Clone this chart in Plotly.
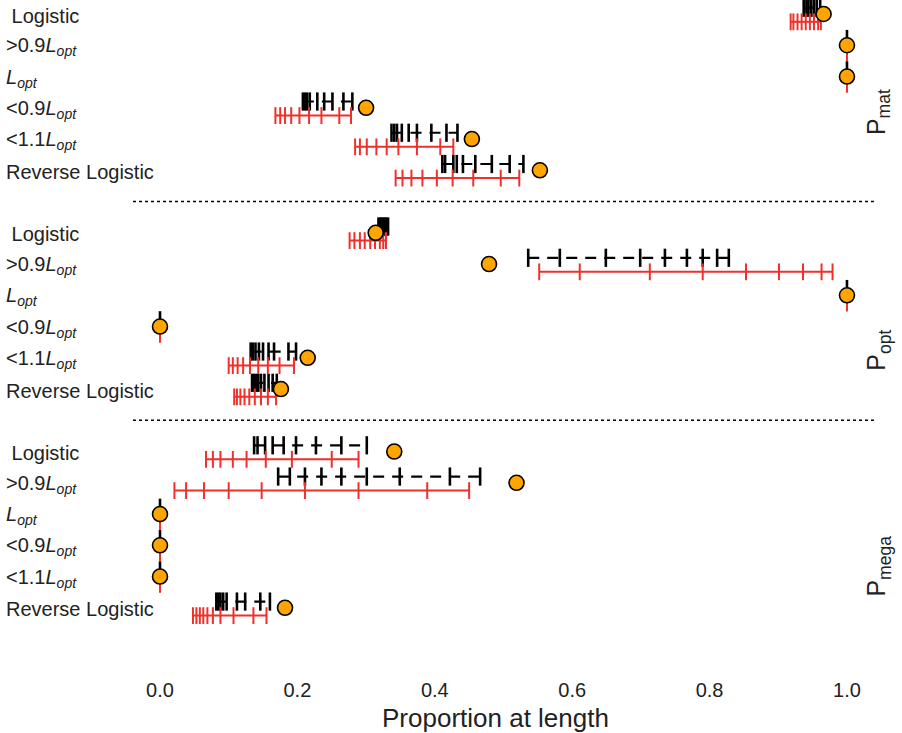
import plotly.graph_objects as go

# ---------------- data ----------------
row_labels = [" Logistic", "&gt;0.9<i>L</i><sub><i>opt</i></sub>", "<i>L</i><sub><i>opt</i></sub>",
              "&lt;0.9<i>L</i><sub><i>opt</i></sub>", "&lt;1.1<i>L</i><sub><i>opt</i></sub>", "Reverse Logistic"]
panel_labels = ["P<sub>mat</sub>", "P<sub>opt</sub>", "P<sub>mega</sub>"]
x_ticks = [0.0, 0.2, 0.4, 0.6, 0.8, 1.0]
x_ticktext = ["0.0", "0.2", "0.4", "0.6", "0.8", "1.0"]

pmat_true = [0.966, 1.0, 1.0, 0.300, 0.454, 0.553]
pmat_black = [
    [0.937, 0.941, 0.944, 0.948, 0.952, 0.956, 0.961],
    [1.0],
    [1.0],
    [0.208, 0.211, 0.214, 0.218, 0.229, 0.239, 0.251, 0.267, 0.280],
    [0.337, 0.341, 0.345, 0.352, 0.362, 0.374, 0.395, 0.417, 0.433],
    [0.411, 0.415, 0.427, 0.432, 0.441, 0.459, 0.483, 0.509, 0.529],
]
pmat_red = [
    [0.918, 0.922, 0.928, 0.934, 0.940, 0.946, 0.952, 0.958, 0.962],
    [1.0],
    [1.0],
    [0.168, 0.175, 0.182, 0.191, 0.203, 0.217, 0.235, 0.261, 0.278],
    [0.284, 0.291, 0.301, 0.315, 0.330, 0.347, 0.374, 0.408, 0.427],
    [0.343, 0.353, 0.366, 0.382, 0.403, 0.426, 0.456, 0.496, 0.523],
]

popt_true = [0.314, 0.479, 1.0, 0.0, 0.215, 0.176]
popt_black = [
    [0.318, 0.320, 0.322, 0.324, 0.326, 0.328, 0.330, 0.332],
    [0.536, 0.582, 0.649, 0.699, 0.735, 0.767, 0.790, 0.811, 0.828],
    [1.0],
    [0.0],
    [0.132, 0.135, 0.139, 0.144, 0.150, 0.158, 0.166, 0.187, 0.198],
    [0.134, 0.137, 0.140, 0.143, 0.147, 0.152, 0.158, 0.164, 0.170],
]
popt_red = [
    [0.276, 0.283, 0.291, 0.298, 0.306, 0.313, 0.320, 0.325, 0.329],
    [0.552, 0.611, 0.713, 0.790, 0.853, 0.901, 0.936, 0.963, 0.979],
    [1.0],
    [0.0],
    [0.100, 0.106, 0.113, 0.121, 0.131, 0.143, 0.157, 0.174, 0.195],
    [0.108, 0.112, 0.117, 0.123, 0.130, 0.138, 0.147, 0.157, 0.169],
]

pmega_true = [0.341, 0.519, 0.0, 0.0, 0.0, 0.182]
pmega_black = [
    [0.137, 0.142, 0.153, 0.164, 0.180, 0.198, 0.227, 0.264, 0.301],
    [0.172, 0.189, 0.211, 0.235, 0.264, 0.301, 0.349, 0.422, 0.466],
    [0.0],
    [0.0],
    [0.0],
    [0.082, 0.085, 0.088, 0.092, 0.097, 0.112, 0.124, 0.146, 0.160],
]
pmega_red = [
    [0.067, 0.077, 0.088, 0.106, 0.126, 0.154, 0.192, 0.250, 0.289],
    [0.021, 0.038, 0.064, 0.100, 0.148, 0.211, 0.289, 0.389, 0.450],
    [0.0],
    [0.0],
    [0.0],
    [0.048, 0.053, 0.058, 0.063, 0.069, 0.077, 0.088, 0.107, 0.136, 0.155],
]

panels = [
    (pmat_true, pmat_black, pmat_red),
    (popt_true, popt_black, popt_red),
    (pmega_true, pmega_black, pmega_red),
]

# ---------------- styling ----------------
FONT = "Liberation Sans, Arial, Helvetica, sans-serif"
TXT = "#222222"
RED = "#F0302A"
ORANGE = "#FFA500"
BLACK_OFF = -0.2
RED_OFF = 0.25

bx, by, rx, ry, cx, cy = [], [], [], [], [], []
annotations = []
for p, (truth, blacks, reds) in enumerate(panels):
    for r in range(6):
        idx = p * 7 + r
        for v in blacks[r]:
            bx.append(v); by.append(idx + BLACK_OFF)
        bx.append(None); by.append(None)
        for v in reds[r]:
            rx.append(v); ry.append(idx + RED_OFF)
        rx.append(None); ry.append(None)
        cx.append(truth[r]); cy.append(idx)
        annotations.append(dict(
            x=-0.1738, xref="paper", y=idx + 0.05, yref="y", xanchor="left", yanchor="middle",
            text=row_labels[r], showarrow=False, font=dict(family=FONT, size=20, color=TXT)))

fig = go.Figure()
fig.add_trace(go.Scatter(
    x=bx, y=by, mode="lines+markers", connectgaps=False, hoverinfo="skip",
    line=dict(color="black", width=2.2, dash="11px,8px"),
    marker=dict(symbol="line-ns", size=13, line=dict(color="black", width=2.6)),
    cliponaxis=False, showlegend=False))
fig.add_trace(go.Scatter(
    x=rx, y=ry, mode="lines+markers", connectgaps=False, hoverinfo="skip",
    line=dict(color=RED, width=2),
    marker=dict(symbol="line-ns", size=12, line=dict(color=RED, width=2)),
    cliponaxis=False, showlegend=False))
fig.add_trace(go.Scatter(
    x=cx, y=cy, mode="markers", hoverinfo="skip",
    marker=dict(symbol="circle", size=15, color=ORANGE, line=dict(color="black", width=1.6)),
    cliponaxis=False, showlegend=False))

# panel labels on the right
for p, yy in enumerate([3.94, 11.46, 18.69]):
    annotations.append(dict(
        x=1.004, xref="paper", y=yy, yref="y", xanchor="center", yanchor="bottom",
        textangle=-90, text=panel_labels[p], showarrow=False,
        font=dict(family=FONT, size=25, color=TXT)))

# axis title
annotations.append(dict(
    x=0.489, xref="paper", y=-0.122, yref="paper", xanchor="center", yanchor="middle",
    text="Proportion at length", showarrow=False, font=dict(family=FONT, size=26, color=TXT)))

shapes = [dict(type="line", xref="paper", x0=0, x1=1, yref="y", y0=s, y1=s,
               line=dict(color="black", width=1.5, dash="dot")) for s in (6, 13)]

fig.update_layout(
    width=902, height=733,
    margin=dict(l=133, r=27, t=0, b=93),
    paper_bgcolor="white", plot_bgcolor="white",
    annotations=annotations, shapes=shapes,
    hovermode=False,
    xaxis=dict(range=[-0.0393, 1.0408], showgrid=False, zeroline=False, showline=False,
               tickvals=x_ticks, ticktext=x_ticktext, ticks="", ticklabelstandoff=36,
               tickfont=dict(family=FONT, size=20, color=TXT), fixedrange=True),
    yaxis=dict(range=[20.03, -0.448], showgrid=False, zeroline=False, showline=False,
               showticklabels=False, ticks="", fixedrange=True),
    font=dict(family=FONT, color=TXT),
)

fig.write_html("out.html", config={"displayModeBar": False, "staticPlot": True},
               post_script="document.body.style.margin='0px';")
